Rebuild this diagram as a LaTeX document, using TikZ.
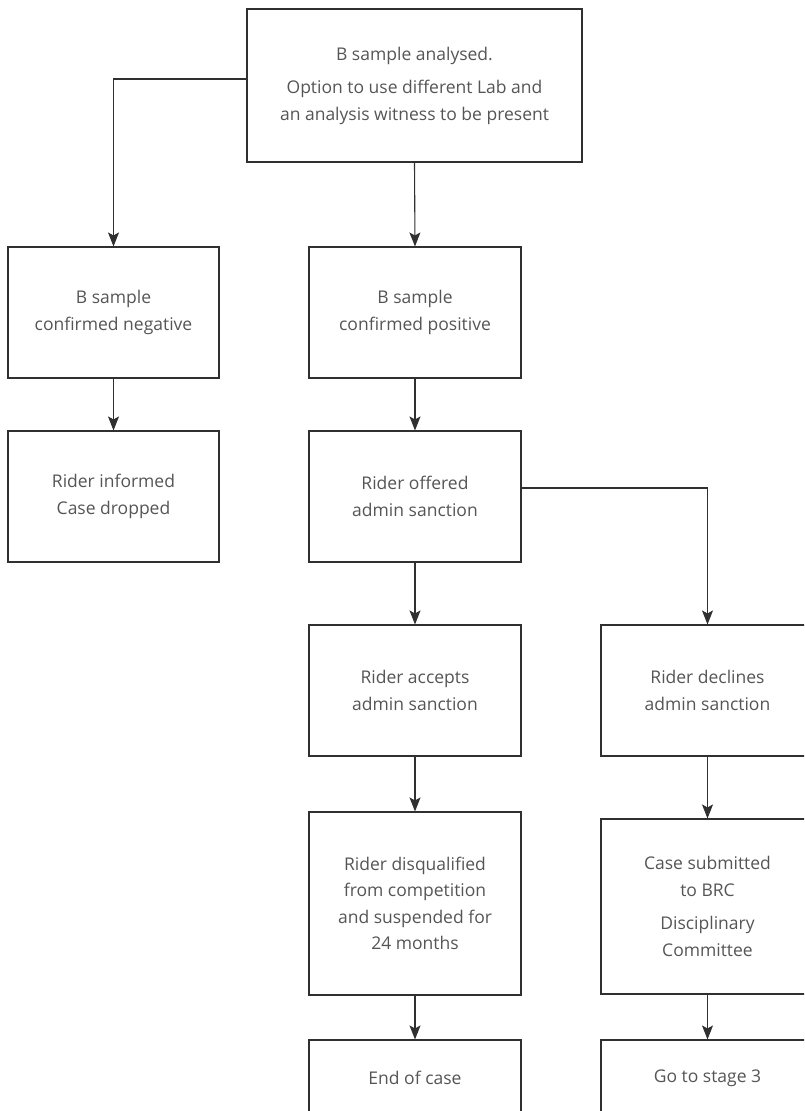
\documentclass[tikz,border=0pt]{standalone}
\usepackage{fontspec}
\setmainfont{Open Sans}
\usetikzlibrary{arrows.meta}
\definecolor{txt}{HTML}{555555}
\definecolor{ln}{HTML}{303030}
\tikzset{
  box/.style={draw=ln, line width=1.1pt, rectangle, align=center, text=txt,
    font=\fontsize{17.5}{26.5}\selectfont, inner sep=0pt},
  conn/.style={draw=ln, line width=1.1pt, -{Stealth[length=14pt,width=11pt,inset=3pt]}},
}
\begin{document}
\begin{tikzpicture}[x=1pt,y=-1pt]
\useasboundingbox (0,0) rectangle (804,1111);
\clip (0,0) rectangle (804,1111);
\node[box, minimum width=335pt, minimum height=153pt] (top) at (414.5,85.5)
  {B sample analysed.\\[7pt] Option to use different Lab and\\ an analysis witness to be present};
\node[box, minimum width=211pt, minimum height=131pt] (neg) at (113.5,312.5)
  {B sample\\ confirmed negative};
\node[box, minimum width=212pt, minimum height=131pt] (pos) at (415,312.5)
  {B sample\\ confirmed positive};
\node[box, minimum width=211pt, minimum height=131pt] (inf) at (113.5,496.5)
  {Rider informed\\ Case dropped};
\node[box, minimum width=212pt, minimum height=131pt] (off) at (415,496.5)
  {Rider offered\\ admin sanction};
\node[box, minimum width=212pt, minimum height=131pt] (acc) at (415,690.5)
  {Rider accepts\\ admin sanction};
\node[box, minimum width=213pt, minimum height=131pt] (dec) at (707.5,690.5)
  {Rider declines\\ admin sanction};
\node[box, minimum width=212pt, minimum height=183pt] (dis) at (415,903.5)
  {Rider disqualified\\ from competition\\ and suspended for\\ 24 months};
\node[box, minimum width=213pt, minimum height=175pt] (sub) at (707.5,906.5)
  {Case submitted\\ to BRC\\[7pt] Disciplinary\\ Committee};
\node[box, minimum width=212pt, minimum height=76pt] (end) at (415,1078)
  {End of case};
\node[box, minimum width=213pt, minimum height=76pt] (go) at (707.5,1078)
  {Go to stage 3};
\draw[conn] ([yshift=6.5pt]top.west) -| (neg.north);
\draw[conn] (top.south) -- (pos.north);
\draw[conn] (neg.south) -- (inf.north);
\draw[conn] (pos.south) -- (off.north);
\draw[conn] ([yshift=8.5pt]off.east) -| (dec.north);
\draw[conn] (off.south) -- (acc.north);
\draw[conn] (acc.south) -- (dis.north);
\draw[conn] (dis.south) -- (end.north);
\draw[conn] (dec.south) -- (sub.north);
\draw[conn] (sub.south) -- (go.north);
\end{tikzpicture}
\end{document}
